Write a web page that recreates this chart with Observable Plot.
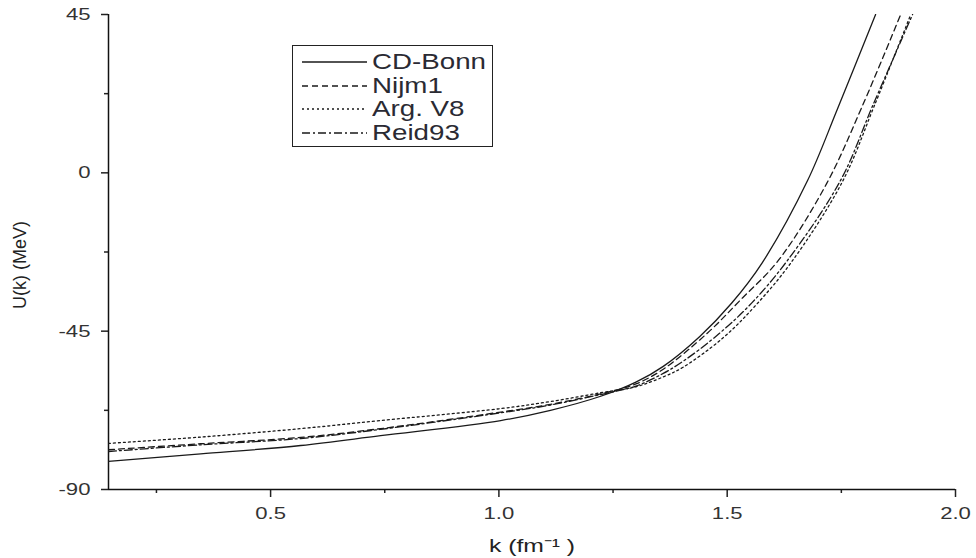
<!DOCTYPE html>
<html>
<head>
<meta charset="utf-8">
<script src="https://cdn.jsdelivr.net/npm/d3@7"></script>
<script src="https://cdn.jsdelivr.net/npm/@observablehq/plot@0.6"></script>
<style>
  html, body { margin: 0; padding: 0; background: white; }
  #wrap { position: relative; width: 976px; height: 558px; }
  #legend {
    position: absolute; left: 292px; top: 45px; width: 199px; height: 100px;
    border: 1.5px solid #222; background: white; box-sizing: content-box;
    font-family: "Liberation Sans", Arial, sans-serif; font-size: 22px; color: #2a2a33;
  }
  .row { position: absolute; left: 0; height: 24px; display: flex; align-items: center; }
  .row svg { margin-left: 9px; }
  .row span { display: inline-block; margin-left: 5px; transform: scaleX(1.26); transform-origin: left center; white-space: nowrap; }
</style>
</head>
<body>
<div id="wrap"><div id="legend"></div></div>
<script>
// axis setup
const xDomain = [0.145, 2.0];
const yDomain = [-90, 45];
const xMajor = [0.5, 1.0, 1.5, 2.0];
const xMinor = [0.25, 0.75, 1.25, 1.75];
const yMajor = [-90, -45, 0, 45];
const yMinor = [-67.5, -22.5, 22.5];
const xLabel = "k (fm⁻¹ )";
const yLabel = "U(k) (MeV)";

// series names
const seriesNames = ["CD-Bonn", "Nijm1", "Arg. V8", "Reid93"];

// CD-Bonn (solid)
const cdBonnK = [0.145, 0.347, 0.566, 0.741, 1.004, 1.113, 1.223, 1.30, 1.36, 1.44, 1.51, 1.577, 1.676, 1.741, 1.825];
const cdBonnU = [-82.0, -79.9, -77.5, -74.7, -70.4, -67.5, -63.5, -59.5, -55.0, -46.5, -37.0, -25.5, -2.2, 18.0, 45.0];

// Nijm1 (dashed)
const nijm1K = [0.145, 0.347, 0.566, 0.741, 1.004, 1.113, 1.223, 1.30, 1.36, 1.457, 1.53, 1.612, 1.718, 1.796, 1.880];
const nijm1U = [-78.7, -77.0, -75.2, -72.7, -68.0, -65.8, -62.8, -60.0, -55.8, -45.5, -36.0, -24.9, -3.0, 19.0, 45.0];

// Arg. V8 (dotted)
const argV8K = [0.145, 0.347, 0.566, 0.741, 1.004, 1.113, 1.223, 1.30, 1.36, 1.404, 1.49, 1.56, 1.640, 1.752, 1.822, 1.902];
const argV8U = [-76.9, -75.1, -72.7, -70.4, -67.0, -65.0, -62.5, -60.8, -58.0, -55.2, -47.0, -38.0, -25.5, -2.6, 19.0, 45.0];

// Reid93 (dash-dot)
const reid93K = [0.145, 0.347, 0.566, 0.741, 1.004, 1.113, 1.223, 1.30, 1.36, 1.404, 1.475, 1.55, 1.632, 1.748, 1.820, 1.906];
const reid93U = [-79.2, -77.3, -75.5, -72.9, -68.2, -66.0, -63.0, -60.6, -57.0, -53.5, -46.5, -37.5, -24.9, -2.2, 19.5, 45.0];

const toRows = (ks, us) => ks.map((k, i) => ({k, u: us[i]}));
const series = [
  {name: seriesNames[0], data: toRows(cdBonnK, cdBonnU), dash: null},
  {name: seriesNames[1], data: toRows(nijm1K, nijm1U), dash: "6,4"},
  {name: seriesNames[2], data: toRows(argV8K, argV8U), dash: "2,3"},
  {name: seriesNames[3], data: toRows(reid93K, reid93U), dash: "8,3,2,3"}
];

const chart = Plot.plot({
  width: 976,
  height: 558,
  marginLeft: 108,
  marginRight: 21,
  marginTop: 14,
  marginBottom: 69,
  x: {domain: xDomain},
  y: {domain: yDomain},
  style: {fontFamily: "'Liberation Sans', Arial, sans-serif", fontSize: "17px", color: "#222", background: "white", overflow: "visible"},
  marks: [
    Plot.axisX({ticks: xMinor, tickSize: 4, tickFormat: () => "", label: null, strokeWidth: 1.5}),
    Plot.axisX({ticks: xMajor, tickSize: 8, tickPadding: 9, tickFormat: d => d.toFixed(1), label: null, strokeWidth: 1.5, fill: "#333", fontSize: 17}),
    Plot.axisY({ticks: yMinor, tickSize: 4, tickFormat: () => "", label: null, strokeWidth: 1.5}),
    Plot.axisY({ticks: yMajor, tickSize: 7, tickPadding: 11, tickFormat: d => String(d), label: null, strokeWidth: 1.5, fill: "#333", fontSize: 17}),
    Plot.text([xLabel], {frameAnchor: "bottom", dy: 56, textAnchor: "middle", lineAnchor: "middle", fontSize: 19, fill: "#222"}),
    Plot.text([yLabel], {frameAnchor: "left", dx: -88, dy: 13, rotate: -90, textAnchor: "middle", lineAnchor: "middle", fontSize: 18, fill: "#222"}),
    Plot.ruleX([xDomain[0]], {stroke: "#111", strokeWidth: 1.5}),
    Plot.ruleY([yDomain[0]], {stroke: "#111", strokeWidth: 1.5}),
    ...series.map(s => Plot.line(s.data, {x: "k", y: "u", stroke: "#1a1a1a", strokeWidth: 1.3, strokeDasharray: s.dash, curve: "catmull-rom", clip: true}))
  ]
});

document.getElementById("wrap").prepend(chart);

// widen horizontal texts to mimic the reference's stretched lettering
chart.querySelectorAll("text").forEach(t => {
  const tr = t.getAttribute("transform") || "";
  if (tr.includes("rotate")) return;
  const L = t.getComputedTextLength();
  if (!L) return;
  t.setAttribute("textLength", (L * 1.3).toFixed(1));
  t.setAttribute("lengthAdjust", "spacingAndGlyphs");
});

// legend
const legend = document.getElementById("legend");
series.forEach((s, i) => {
  const row = document.createElement("div");
  row.className = "row";
  row.style.top = (4 + i * 23.5) + "px";
  const ns = "http://www.w3.org/2000/svg";
  const svg = document.createElementNS(ns, "svg");
  svg.setAttribute("width", 65); svg.setAttribute("height", 6);
  const ln = document.createElementNS(ns, "line");
  ln.setAttribute("x1", 0); ln.setAttribute("x2", 65);
  ln.setAttribute("y1", 3); ln.setAttribute("y2", 3);
  ln.setAttribute("stroke", "#1a1a1a"); ln.setAttribute("stroke-width", 1.5);
  if (s.dash) ln.setAttribute("stroke-dasharray", s.dash);
  svg.appendChild(ln);
  const sp = document.createElement("span");
  sp.textContent = s.name;
  row.appendChild(svg); row.appendChild(sp);
  legend.appendChild(row);
});
</script>
</body>
</html>
